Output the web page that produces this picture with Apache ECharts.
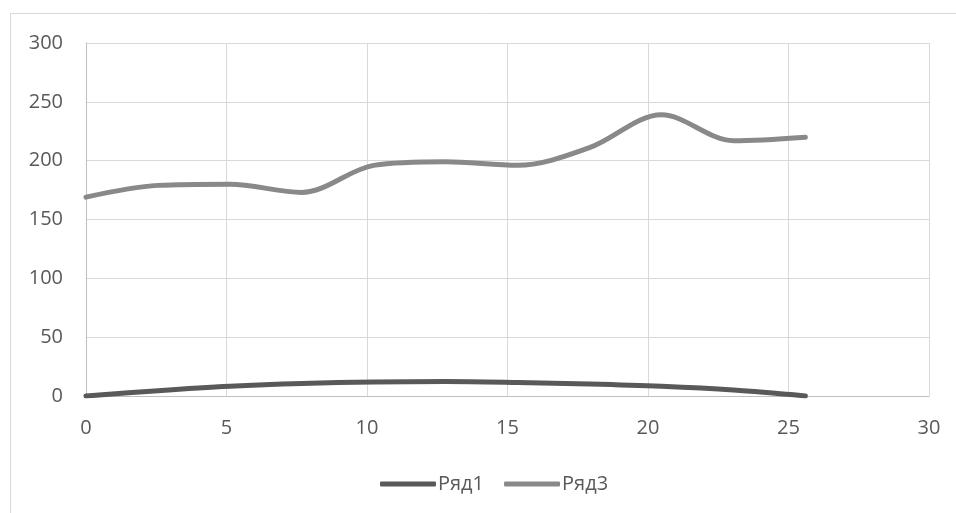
<!DOCTYPE html>
<html>
<head>
<meta charset="utf-8">
<script src="https://cdn.jsdelivr.net/npm/echarts@6/dist/echarts.min.js"></script>
<style>html,body{margin:0;padding:0;background:#fff}#c{width:956px;height:513px}</style>
</head>
<body>
<div id="c"></div>
<script>
const xValues = [0, 2.56, 5.12, 7.68, 10.24, 12.8, 15.36, 17.92, 20.48, 23.04, 25.6];
const ryad1 = [0, 4.5, 8.2, 10.6, 11.9, 12.3, 11.5, 10.2, 8.2, 5, 0];
const ryad3 = [169, 179, 180, 173, 196, 199, 196, 211, 239, 217, 220];
const seriesNames = ['Ряд1', 'Ряд3'];

const pairs = (ys) => xValues.map((x, i) => [x, ys[i]]);
const font = '"Open Sans", sans-serif';
const chart = echarts.init(document.getElementById('c'), null, {renderer: 'canvas'});
chart.setOption({
  animation: false,
  backgroundColor: '#fff',
  graphic: [{
    type: 'rect', shape: {x: 10.5, y: 13.5, width: 1000, height: 600},
    style: {fill: 'none', stroke: '#d9d9d9', lineWidth: 1}, silent: true, z: -1
  }],
  grid: {left: 86, right: 27, top: 43, bottom: 117},
  legend: {
    data: seriesNames, top: 469, left: 375,
    icon: 'roundRect', itemWidth: 56, itemHeight: 5, itemGap: 20,
    textStyle: {color: '#595959', fontSize: 20, fontFamily: font, padding: [0, 0, 0, -3]}
  },
  xAxis: {
    type: 'value', min: 0, max: 30, interval: 5,
    axisLine: {show: true, lineStyle: {color: '#bfbfbf', width: 1}},
    axisTick: {show: false},
    splitLine: {show: true, lineStyle: {color: '#d9d9d9', width: 1}},
    axisLabel: {color: '#595959', fontSize: 20, fontFamily: font, margin: 22}
  },
  yAxis: {
    type: 'value', min: 0, max: 300, interval: 50,
    axisLine: {show: true, lineStyle: {color: '#bfbfbf', width: 1}},
    axisTick: {show: false},
    splitLine: {show: true, lineStyle: {color: '#d9d9d9', width: 1}},
    axisLabel: {color: '#595959', fontSize: 20, fontFamily: font, margin: 23}
  },
  series: [
    {name: seriesNames[0], type: 'line', data: pairs(ryad1), smooth: 0.33, showSymbol: false, symbol: 'none',
     color: '#595959', lineStyle: {width: 5, color: '#595959', cap: 'round', join: 'round'}},
    {name: seriesNames[1], type: 'line', data: pairs(ryad3), smooth: 0.33, showSymbol: false, symbol: 'none',
     color: '#898989', lineStyle: {width: 5, color: '#898989', cap: 'round', join: 'round'}}
  ]
});
</script>
</body>
</html>
